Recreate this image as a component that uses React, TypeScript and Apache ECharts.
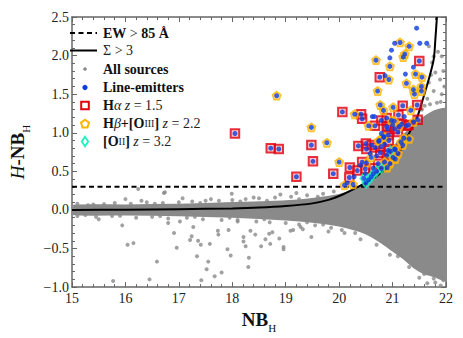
import React, { useEffect, useRef } from "react";
import * as echarts from "echarts";

// ---------- data ----------
const xTicks = [15, 16, 17, 18, 19, 20, 21, 22];
const yTicks = [-1.0, -0.5, 0.0, 0.5, 1.0, 1.5, 2.0, 2.5];

const ewThreshold = 0.3;

const sigmaCurveX = [15, 16, 17, 18, 18.5, 19, 19.5, 19.8, 20.0, 20.3, 20.6, 20.85, 21.05, 21.2, 21.35, 21.47, 21.57, 21.68, 21.77, 21.8, 21.83];
const sigmaCurveY = [0.0, 0.003, 0.01, 0.02, 0.03, 0.05, 0.085, 0.13, 0.18, 0.28, 0.39, 0.52, 0.67, 0.84, 1.05, 1.22, 1.44, 1.7, 1.95, 2.2, 2.5];

// dense core of "All sources" (envelope of the cloud)
const cloudUpper: [number, number][] = [
  [15, 0.05], [16, 0.055], [17, 0.065], [18, 0.085], [19, 0.11], [19.5, 0.14], [20, 0.19],
  [20.3, 0.27], [20.6, 0.41], [20.8, 0.57], [21.0, 0.78], [21.2, 0.96], [21.4, 1.08], [21.6, 1.2], [21.8, 1.28], [22, 1.3],
];
const cloudLower: [number, number][] = [
  [15, -0.05], [16, -0.055], [17, -0.065], [18, -0.085], [19, -0.12], [19.5, -0.15], [20, -0.2], [20.5, -0.3],
  [20.8, -0.42], [21.0, -0.52], [21.2, -0.62], [21.4, -0.74], [21.6, -0.82], [21.8, -0.86], [22, -0.9],
];
// sparse "All sources" points
const sparseSources: [number, number][] = [
  [15.77, -0.92], [16.45, -0.9], [16.04, -0.45], [16.15, -0.43], [15.94, -0.2], [16.0, 0.14], [16.24, 0.27], [16.72, 0.22],
  [16.59, -0.67], [16.91, -0.3], [16.96, -0.49], [16.8, -0.17], [17.02, -0.15], [17.27, -0.22], [17.24, -0.34], [17.21, -0.39],
  [17.36, -0.4], [17.41, -0.45], [17.34, -0.6], [17.55, -0.67], [17.52, -0.77], [17.42, -0.91], [17.67, -0.86], [17.8, -0.81],
  [17.58, -0.44], [17.73, -0.27], [17.74, -0.32], [17.93, -0.26], [17.91, -0.51], [17.97, -0.59], [17.99, 0.21], [18.1, -0.15],
  [18.21, -0.35], [18.21, -0.41], [18.25, -0.47], [18.31, -0.62], [18.3, -0.74], [18.34, -0.27], [18.43, -0.32], [18.54, -0.47],
  [18.62, -0.38], [18.69, -0.31], [18.75, -0.29], [18.88, -0.37], [18.96, -0.48], [18.96, -0.51], [19.09, -0.27], [19.28, -0.22],
  [19.32, -0.25], [19.48, -0.35], [18.71, -0.44], [19.14, -0.26], [16.74, 0.23], [17.07, 0.15], [15.5, -0.12], [16.3, 0.12],
  [17.6, 0.14], [18.4, 0.16], [18.9, 0.2], [19.2, 0.22],
  // fringe of the band
  [15.1, 0.08], [15.4, 0.07], [15.8, 0.09], [16.1, 0.08], [16.4, 0.1], [16.7, 0.09], [17.0, 0.1], [17.25, 0.11], [17.5, 0.12],
  [17.75, 0.12], [18.0, 0.13], [18.25, 0.14], [18.5, 0.15], [18.8, 0.16], [19.1, 0.17], [19.4, 0.19], [19.7, 0.21], [19.9, 0.24],
  [15.3, 0.06], [15.6, 0.075], [16.55, 0.08], [17.4, 0.09], [18.15, 0.11], [18.65, 0.12], [19.25, 0.14], [19.6, 0.17],
  [15.1, -0.08], [15.45, -0.09], [15.75, -0.08], [16.2, -0.1], [16.5, -0.09], [16.8, -0.11], [17.15, -0.1], [17.45, -0.12],
  [17.8, -0.13], [18.1, -0.13], [18.45, -0.15], [18.7, -0.16], [19.0, -0.17], [19.25, -0.19], [19.55, -0.2], [19.85, -0.23],
  [20.05, -0.26], [20.3, -0.3], [15.25, -0.065], [15.9, -0.075], [16.65, -0.08], [17.3, -0.09], [17.95, -0.1], [18.6, -0.12],
  [19.4, -0.16], [19.7, -0.19],
  // right side
  [21.25, -0.62], [21.31, -0.74], [21.59, -0.83], [21.77, -0.89], [21.8, -0.94], [21.95, -0.91], [21.5, -0.88], [21.65, -0.95],
  [21.9, -0.98], [21.35, -0.68], [21.1, -0.6], [20.95, -0.58], [20.7, -0.45], [20.4, -0.38], [20.1, -0.3], [19.8, -0.28],
  [21.68, 2.12], [21.77, 1.99], [21.74, 1.91], [21.92, 1.99], [21.8, 1.78], [21.89, 1.69], [21.68, 1.65], [21.77, 1.54],
  [21.92, 1.5], [21.65, 1.44], [21.83, 1.39], [21.95, 1.8], [21.85, 2.05], [21.6, 1.35], [21.97, 1.6], [21.72, 1.75],
  [21.55, 1.3], [21.45, 1.2], [21.9, 1.4], [21.7, 1.37],
];

const halphaPoints: [number, number][] = [
  [18.05, 0.99], [18.72, 0.8], [18.87, 0.79], [19.2, 0.43], [19.48, 0.84], [19.51, 0.63], [19.89, 0.47], [20.06, 1.27],
  [20.19, 0.42], [20.2, 0.55], [20.34, 0.51], [20.36, 0.83], [20.41, 1.24], [20.43, 1.18], [20.43, 0.62], [20.49, 0.53],
  [20.5, 0.86], [20.51, 0.79], [20.61, 0.84], [20.64, 0.54], [20.67, 1.09], [20.67, 0.81], [20.73, 0.6], [20.76, 1.72],
  [20.77, 0.74], [20.78, 0.82], [20.79, 1.16], [20.89, 1.19], [20.89, 1.08], [20.91, 1.05], [20.89, 0.71], [20.92, 0.97],
  [20.93, 0.9], [21.04, 1.05], [21.05, 0.78], [21.1, 1.01], [21.11, 1.23], [21.17, 1.11], [21.19, 1.35], [21.26, 1.09],
  [21.3, 1.1], [21.46, 1.36], [21.47, 1.17], [21.5, 1.93], [20.92, 0.77],
];
const hbetaPoints: [number, number][] = [
  [18.83, 1.48], [19.48, 1.07], [19.77, 0.87], [20.0, 0.62], [20.1, 0.32], [20.26, 0.33], [20.29, 1.24], [20.51, 0.61],
  [20.55, 1.09], [20.6, 0.68], [20.69, 1.94], [20.72, 1.54], [20.75, 0.9], [20.77, 1.36], [20.83, 1.29], [20.83, 0.94],
  [20.85, 0.62], [20.93, 1.69], [20.95, 1.86], [20.98, 1.16], [21.01, 1.33], [21.01, 0.68], [21.03, 1.15], [21.04, 0.79],
  [21.1, 0.73], [21.14, 2.17], [21.16, 0.88], [21.19, 0.84], [21.2, 1.98], [21.21, 0.93], [21.23, 2.02], [21.26, 1.64],
  [21.31, 2.12], [21.31, 0.92], [21.34, 1.29], [21.39, 1.56], [21.39, 1.14], [21.41, 1.5], [21.43, 1.76], [21.54, 1.6],
  [21.54, 1.54], [21.55, 1.72], [20.84, 0.95], [20.74, 0.89], [21.12, 1.08], [20.95, 0.6], [21.05, 0.66], [20.9, 0.55],
];
const oiiPoints: [number, number][] = [
  [20.46, 0.41], [20.55, 0.39], [20.64, 0.47], [20.79, 0.54], [20.96, 0.76], [20.5, 0.35], [20.7, 0.5], [20.6, 0.43],
];
const emitterOnlyPoints: [number, number][] = [
  [20.62, 1.21], [20.66, 1.21], [20.79, 0.99], [20.58, 0.73], [20.4, 0.58], [20.28, 0.43], [20.15, 0.35], [20.49, 0.47],
  [20.86, 1.74], [20.95, 1.97], [20.98, 2.07], [21.04, 2.16], [21.22, 1.21], [21.24, 1.76], [21.39, 1.85], [21.45, 2.355],
  [21.51, 2.16], [21.64, 2.16], [20.7, 0.7], [21.0, 1.1], [20.85, 0.85],
];

// ---------- styling ----------
const FONT = "Liberation Serif";
const GRAY = "#8a8a8a";
const BLUE = "#0b3ce0";
const RED = "#e00010";
const ORANGE = "#ffb400";
const CYAN = "#1ef0c0";
const AXIS = "#666666";

const PENTAGON = "path://M0,-10 L9.51,-3.09 L5.88,8.09 L-5.88,8.09 L-9.51,-3.09 Z";
const DIAMOND = "path://M0,-10 L6.5,0 L0,10 L-6.5,0 Z";

function fmtY(v: number) {
  return v < 0 ? "\u2212" + Math.abs(v).toFixed(1) : v.toFixed(1);
}

export default function App() {
  const ref = useRef<HTMLDivElement>(null);
  useEffect(() => {
    if (!ref.current) return;
    const chart = echarts.init(ref.current, null, { renderer: "svg" });

    const axisCommon = {
      axisLine: { show: true, onZero: false, lineStyle: { color: AXIS, width: 1.5 } },
      axisTick: { show: true, inside: true, length: 5, lineStyle: { color: AXIS, width: 1 } },
      minorTick: { show: true, splitNumber: 5, length: 3, lineStyle: { color: AXIS, width: 1 } },
      splitLine: { show: false },
    };

    const legendX = 85;
    const legendTextX = 103;
    const rows = [33, 50.5, 69, 87.5, 105.5, 123.5, 141.5];
    const tStyle = (text: string, y: number) => ({
      type: "text",
      x: legendTextX,
      y,
      style: {
        text,
        fill: "#111",
        fontFamily: FONT,
        fontSize: 14,
        fontWeight: "bold",
        verticalAlign: "middle",
        rich: {
          b: { fontFamily: FONT, fontSize: 14, fontWeight: "bold", fill: "#111" },
          r: { fontFamily: FONT, fontSize: 14, fontWeight: "normal", fill: "#222" },
          i: { fontFamily: FONT, fontSize: 14, fontStyle: "italic", fontWeight: "normal", fill: "#222" },
          s: { fontFamily: FONT, fontSize: 10, fontWeight: "normal", fill: "#222" },
        },
      },
      z: 100,
    });
    const pent = (cx: number, cy: number, r: number) =>
      [0, 1, 2, 3, 4].map((k) => {
        const a = -Math.PI / 2 + (k * 2 * Math.PI) / 5;
        return [cx + r * Math.cos(a), cy + r * Math.sin(a)];
      });

    const option: any = {
      animation: false,
      textStyle: { fontFamily: FONT },
      grid: { left: 63, right: 17, top: 17, bottom: 48, containLabel: false },
      xAxis: [
        {
          type: "value",
          min: xTicks[0],
          max: xTicks[xTicks.length - 1],
          interval: 1,
          position: "bottom",
          ...axisCommon,
          axisLabel: { color: "#222", fontFamily: FONT, fontSize: 14, margin: 4 },
          name: "{b|NB}{s|H}",
          nameLocation: "middle",
          nameGap: 18,
          nameTextStyle: {
            fontFamily: FONT,
            rich: {
              b: { fontFamily: FONT, fontSize: 19, fontWeight: "bold", color: "#111", lineHeight: 22, verticalAlign: "bottom" },
              s: { fontFamily: FONT, fontSize: 11, fontWeight: "normal", color: "#111", lineHeight: 22, verticalAlign: "bottom", padding: [0, 0, -4, 0] },
            },
          },
        },
        {
          type: "value",
          min: xTicks[0],
          max: xTicks[xTicks.length - 1],
          interval: 1,
          position: "top",
          ...axisCommon,
          axisLabel: { show: false },
        },
      ],
      yAxis: [
        {
          type: "value",
          min: yTicks[0],
          max: yTicks[yTicks.length - 1],
          interval: 0.5,
          position: "left",
          ...axisCommon,
          axisLabel: { color: "#222", fontFamily: FONT, fontSize: 14, margin: 3, formatter: fmtY },
          name: "{i|H}{b|-NB}{s|H}",
          nameLocation: "middle",
          nameRotate: 90,
          nameGap: 45,
          nameTextStyle: {
            fontFamily: FONT,
            rich: {
              i: { fontFamily: FONT, fontSize: 19, fontStyle: "italic", color: "#111", lineHeight: 22, verticalAlign: "bottom" },
              b: { fontFamily: FONT, fontSize: 19, fontWeight: "bold", color: "#111", lineHeight: 22, verticalAlign: "bottom" },
              s: { fontFamily: FONT, fontSize: 11, color: "#111", lineHeight: 22, verticalAlign: "bottom", padding: [0, 0, -4, 0] },
            },
          },
        },
        {
          type: "value",
          min: yTicks[0],
          max: yTicks[yTicks.length - 1],
          interval: 0.5,
          position: "right",
          ...axisCommon,
          axisLabel: { show: false },
        },
      ],
      series: [
        {
          name: "cloud",
          type: "custom",
          coordinateSystem: "cartesian2d",
          clip: true,
          data: [[18, 0]],
          z: 1,
          renderItem: (_p: any, api: any) => {
            const pts = cloudUpper
              .map((d) => api.coord(d))
              .concat(cloudLower.slice().reverse().map((d) => api.coord(d)));
            return {
              type: "polygon",
              shape: { points: pts, smooth: 0.2 },
              style: { fill: GRAY, stroke: GRAY, lineWidth: 2.5, lineJoin: "round" },
            };
          },
        },
        {
          name: "All sources",
          type: "scatter",
          data: sparseSources,
          symbol: "circle",
          symbolSize: 4,
          itemStyle: { color: GRAY },
          z: 2,
        },
        {
          name: "EW",
          type: "line",
          data: [[xTicks[0], ewThreshold], [xTicks[xTicks.length - 1], ewThreshold]],
          symbol: "none",
          lineStyle: { color: "#000", width: 2, type: [5, 3.5] },
          z: 3,
        },
        {
          name: "Sigma",
          type: "line",
          data: sigmaCurveX.map((x, i) => [x, sigmaCurveY[i]]),
          symbol: "none",
          smooth: 0.3,
          lineStyle: { color: "#000", width: 2 },
          clip: true,
          z: 3,
        },
        {
          name: "Halpha",
          type: "scatter",
          data: halphaPoints,
          symbol: "rect",
          symbolSize: 8.5,
          itemStyle: { color: "rgba(255,60,60,0.35)", borderColor: RED, borderWidth: 2 },
          z: 4,
        },
        {
          name: "Hbeta",
          type: "scatter",
          data: hbetaPoints,
          symbol: PENTAGON,
          symbolSize: 8,
          itemStyle: { color: "rgba(255,200,60,0.4)", borderColor: ORANGE, borderWidth: 1.8 },
          z: 4,
        },
        {
          name: "OII",
          type: "scatter",
          data: oiiPoints,
          symbol: DIAMOND,
          symbolSize: [7, 10],
          itemStyle: { color: "rgba(0,0,0,0)", borderColor: CYAN, borderWidth: 1.8 },
          z: 4,
        },
        {
          name: "Line-emitters",
          type: "scatter",
          data: emitterOnlyPoints.concat(halphaPoints, hbetaPoints, oiiPoints),
          symbol: "circle",
          symbolSize: 5,
          itemStyle: { color: BLUE },
          z: 5,
        },
      ],
      graphic: [
        { type: "line", shape: { x1: 70, y1: rows[0], x2: 97, y2: rows[0] }, style: { stroke: "#000", lineWidth: 2, lineDash: [5, 3.5] }, z: 100 },
        { type: "line", shape: { x1: 70, y1: rows[1], x2: 97, y2: rows[1] }, style: { stroke: "#000", lineWidth: 2 }, z: 100 },
        { type: "circle", shape: { cx: legendX, cy: rows[2], r: 1.8 }, style: { fill: GRAY }, z: 100 },
        { type: "circle", shape: { cx: legendX, cy: rows[3], r: 2.6 }, style: { fill: BLUE }, z: 100 },
        { type: "rect", shape: { x: legendX - 3.8, y: rows[4] - 3.8, width: 7.6, height: 7.6 }, style: { fill: "#fff", stroke: RED, lineWidth: 2 }, z: 100 },
        { type: "polygon", shape: { points: pent(legendX, rows[5] + 0.5, 4.2) }, style: { fill: "#fff", stroke: ORANGE, lineWidth: 2 }, z: 100 },
        { type: "polygon", shape: { points: [[legendX, rows[6] - 4.8], [legendX + 3.2, rows[6]], [legendX, rows[6] + 4.8], [legendX - 3.2, rows[6]]] }, style: { fill: "#fff", stroke: CYAN, lineWidth: 1.8 }, z: 100 },
        tStyle("{b|EW} {r|>} {b|85 Å}", rows[0]),
        tStyle("{r|Σ > 3}", rows[1]),
        tStyle("{b|All sources}", rows[2]),
        tStyle("{b|Line-emitters}", rows[3]),
        tStyle("{b|H}{i|α z}{r| = 1.5}", rows[4]),
        tStyle("{b|H}{i|β}{b|+[O}{s|III}{b|]} {i|z}{r| = 2.2}", rows[5]),
        tStyle("{b|[O}{s|II}{b|]} {i|z}{r| = 3.2}", rows[6]),
      ],
    };
    chart.setOption(option);
    return () => chart.dispose();
  }, []);

  return <div ref={ref} style={{ position: "absolute", left: 0, top: 0, width: 463, height: 338, background: "#fff" }} />;
}
